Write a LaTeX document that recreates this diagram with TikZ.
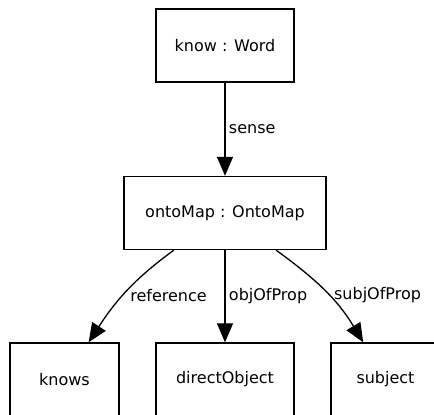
\documentclass[tikz,border=0pt]{standalone}
\usepackage{fontspec}
\setmainfont{DejaVu Sans}
\usetikzlibrary{arrows.meta,positioning}

\begin{document}
\begin{tikzpicture}[x=1pt,y=1pt,
  obj/.style={draw, line width=1.3pt, minimum height=73pt, font=\fontsize{16}{19}\selectfont},
  rel/.style={line width=1.3pt, -{Triangle[length=19pt,width=16pt]}},
  lbl/.style={right, midway, font=\fontsize{16}{19}\selectfont}]
\useasboundingbox (0,0) rectangle (434,415); \clip (0,0) rectangle (434,415);
\node[obj, minimum width=138pt] (word) at (225,369.5) {know : Word};
\node[obj, minimum width=202pt] (onto) at (225,202) {ontoMap : OntoMap};
\foreach \n/\x/\w/\t in {knows/64.5/109/knows, dobj/225/138/directObject, subj/385.5/109/subject}
  \node[obj, minimum width=\w pt] (\n) at (\x,35.5) {\t};
\draw[rel] (word) -- node[lbl] {sense} (onto);
\draw[rel] (onto) -- node[lbl] {objOfProp} (dobj);
\draw[rel] (onto) to[out=216, in=57] node[lbl, yshift=-4pt] {reference} (knows);
\draw[rel] (onto) to[out=324, in=121] node[lbl, xshift=5pt, yshift=-4pt] {subjOfProp} (subj);
\end{tikzpicture}
\end{document}
